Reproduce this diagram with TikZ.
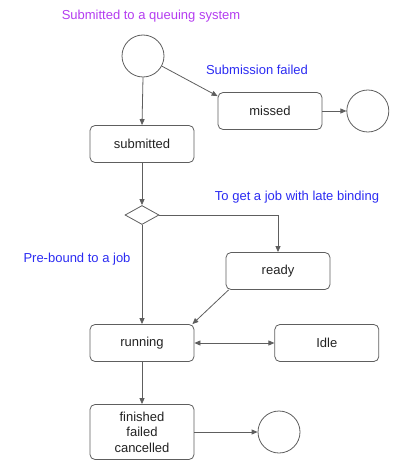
\documentclass[tikz,border=0pt]{standalone}
\usepackage{fontspec}
\setmainfont{Liberation Sans}
\usepackage{xcolor}
\usetikzlibrary{arrows.meta,positioning,shapes.geometric,calc}
\definecolor{cLine}{HTML}{5E5E5E}
\definecolor{cInk}{HTML}{222222}
\definecolor{cNote}{HTML}{2B2BF2}
\definecolor{cHead}{HTML}{B43CF0}
\tikzset{
  state/.style  = {draw=cLine, rounded corners=5pt, align=center,
                   minimum width=104pt, minimum height=37pt, inner sep=2pt,
                   font=\fontsize{13}{15.5}\selectfont, text=cInk, line width=0.8pt},
  endpt/.style  = {circle, draw=cLine, minimum size=42pt, inner sep=0pt,
                   line width=0.8pt},
  choice/.style = {diamond, draw=cLine, minimum width=34pt, minimum height=19pt,
                   inner sep=0pt, line width=0.8pt},
  flow/.style   = {-{Triangle[length=6pt,width=5pt]}, draw=cLine, line width=0.8pt},
  both/.style   = {flow, {Triangle[length=6pt,width=5pt]}-{Triangle[length=6pt,width=5pt]}},
  note/.style   = {font=\fontsize{13}{15.5}\selectfont, text=cNote},
}
\begin{document}
\begin{tikzpicture}[x=1pt, y=-1pt]
  \useasboundingbox (0,0) rectangle (414,476);
  % submission
  \node[endpt] (start) at (143,56) {};
  \node[note, text=cHead] (qlabel) at (151,16) {Submitted to a queuing system};
  \node[state] (submitted) at (142,144) {submitted};
  \node[state] (missed) at (270,111) {missed};
  \node[endpt, right=24pt of missed] (missend) {};
  \node[note] (faillabel) at (257,70) {Submission failed};
  % binding choice
  \node[choice] (bind) at (142,215) {};
  \node[note] (latelabel) at (297,197) {To get a job with late binding};
  \node[note] (prelabel) at (77,259) {Pre-bound to a job};
  \node[state] (ready) at (278,271) {ready};
  % execution
  \node[state] (running) at (142,343) {running};
  \node[state, right=80pt of running] (idle) {Idle};
  \node[state, minimum height=55pt] (done) at (142,432) {finished\\failed\\cancelled};
  \node[endpt] (doneend) at (279,432) {};
  % flows
  \draw[flow] (start.south) -- (submitted.north);
  \draw[flow] (start) -- ($(missed.north west)+(0,4)$);
  \draw[flow] (missed) -- (missend);
  \draw[flow] (submitted) -- (bind);
  \draw[flow] (bind.east) -| (ready.north);
  \draw[flow] (bind.south) -- (running.north);
  \draw[flow] ($(ready.south west)+(3,0)$) -- ($(running.north east)+(-2,0)$);
  \draw[both] (running) -- (idle);
  \draw[flow] (running) -- (done);
  \draw[flow] (done) -- (doneend);
\end{tikzpicture}
\end{document}
